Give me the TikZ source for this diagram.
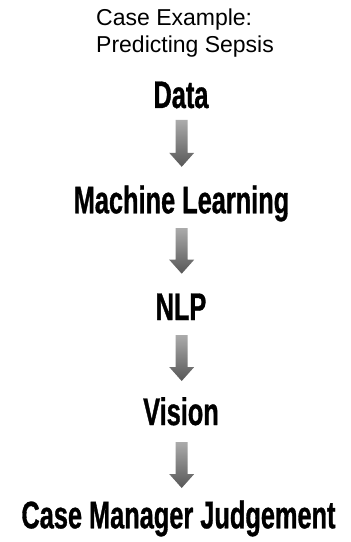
\documentclass[tikz,border=0pt]{standalone}
\usepackage{fontspec}
\setmainfont{Liberation Sans}
\newfontfamily\stagefont{Liberation Sans}[FakeStretch=0.66, FakeBold=0.8]
\usetikzlibrary{calc}

\definecolor{arrowtop}{HTML}{ABABAB}
\definecolor{arrowbot}{HTML}{575757}

\tikzset{
    title/.style={inner sep=0pt, align=left, font=\fontsize{23bp}{26.7bp}\selectfont},
    stage/.style={inner sep=0pt, font=\stagefont\bfseries\fontsize{38.4bp}{40bp}\selectfont},
    flow/.style={top color=arrowtop, bottom color=arrowbot, draw=none,
        to path={let \p1=(\tikztostart), \p2=(\tikztotarget) in
            (\x1-6bp,\y1) -- (\x1+6bp,\y1) -- (\x1+6bp,\y2+14bp) -- (\x1+12.5bp,\y2+14bp)
            -- (\x1,\y2) -- (\x1-12.5bp,\y2+14bp) -- (\x1-6bp,\y2+14bp) -- cycle}}
}

\begin{document}
\begin{tikzpicture}[x=1bp, y=1bp]
        \useasboundingbox (0,0) rectangle (350,-542);
        % title
        \node[title, anchor=north west] (case) at (96,-9) {Case Example:\\Predicting Sepsis};
        % stages
        \node[stage, anchor=base] (data) at (181,-108) {Data};
        \node[stage, anchor=base] (ml) at (181.5,-213.3) {Machine Learning};
        \node[stage, anchor=base] (nlp) at (181,-320) {NLP};
        \node[stage, anchor=base] (vision) at (181,-425) {Vision};
        \node[stage, anchor=base] (judge) at (178.5,-528.3) {Case Manager Judgement};
        % arrows
        \path[flow] ([xshift=0.7bp, yshift=-12bp]data.base) to ([yshift=46.5bp]ml.base);
        \path[flow] ([xshift=0.2bp, yshift=-14.7bp]ml.base) to ([yshift=46.3bp]nlp.base);
        \path[flow] ([xshift=0.7bp, yshift=-15bp]nlp.base) to ([yshift=44bp]vision.base);
        \path[flow] ([xshift=0.7bp, yshift=-17bp]vision.base) to ([yshift=40.3bp]judge.base);
\end{tikzpicture}
\end{document}
